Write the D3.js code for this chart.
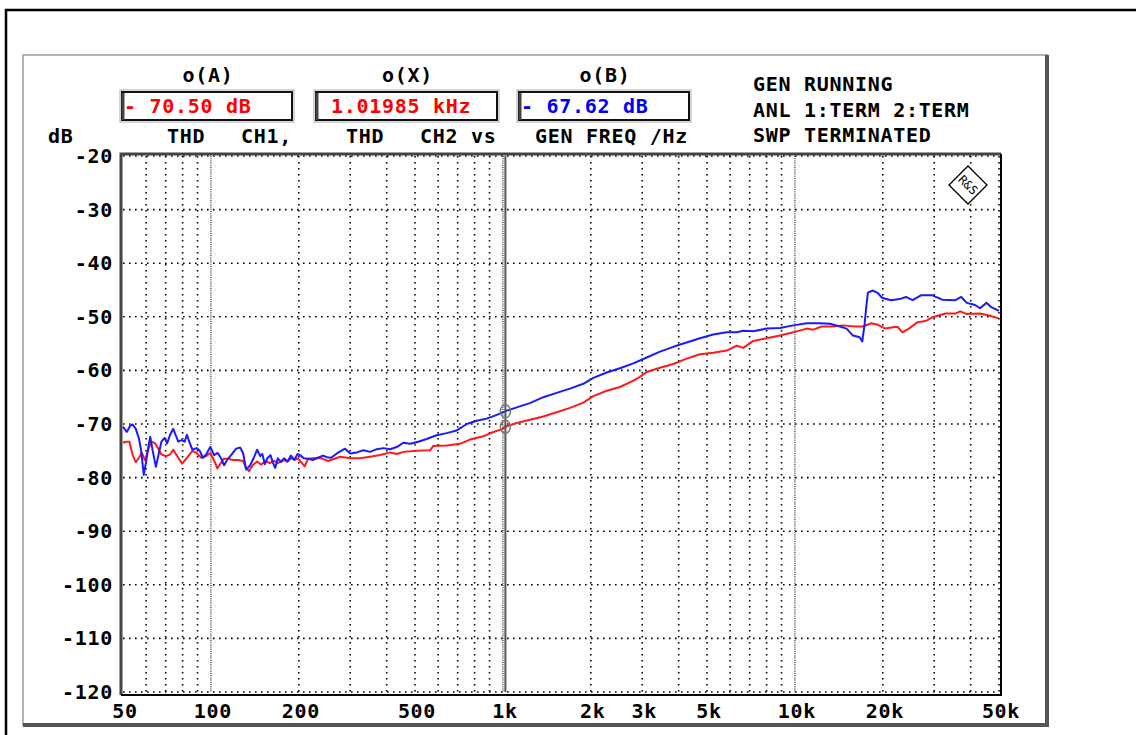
<!DOCTYPE html>
<html>
<head>
<meta charset="utf-8">
<script src="https://cdn.jsdelivr.net/npm/d3@7"></script>
<style>
  body { margin: 0; background: #fff; }
  svg text { font-family: "DejaVu Sans Mono", "Liberation Mono", monospace; font-weight: bold; font-size: 20px; letter-spacing: 0.7px; }
</style>
</head>
<body>
<svg id="chart" width="1136" height="735"></svg>
<script>
// THD vs generator frequency, CH1 (red) and CH2 (blue)
var ch1 = [
  [50,-73.5],[51.3,-73.3],[52.6,-73.3],[53.9,-75.7],[55.3,-77.1],[56.7,-76.3],[58,-75.4],[59.5,-76.8],
  [61.2,-74.5],[62.7,-73.3],[64.4,-73.6],[65.9,-74.5],[67.7,-75.7],[70.2,-76],[72.4,-75.7],[74.3,-74.8],
  [76.7,-76],[79.7,-77.4],[82.8,-76.3],[86.4,-75],[89.3,-75.4],[92.7,-76.3],[96.3,-76],[99.5,-75.4],
  [102.6,-76.8],[105.2,-78.3],[107.9,-77.4],[110.6,-76.5],[114.8,-76.5],[119,-76.7],[124,-76.7],[128.8,-76.9],
  [132,-78.2],[135,-78.8],[139.5,-77.6],[144,-77],[148.8,-77.6],[153.5,-76.9],[159,-77.3],[164.5,-76.9],
  [169.8,-77.3],[176.6,-76.7],[182.8,-77],[188.6,-76.4],[193.6,-76.7],[198.7,-76.4],[205,-77.3],[209.5,-77.9],
  [214.9,-76.5],[223.4,-76.4],[232.7,-76.3],[242,-76.5],[252,-76.9],[277,-76.1],[300,-76.4],[324,-76.4],
  [351,-76.1],[380,-75.8],[411,-75.3],[433,-75.6],[456,-75.2],[507,-75],[563,-74.9],[578,-74.1],
  [642,-74],[713,-73.7],[771,-72.9],[857,-72.3],[927,-71.5],[990,-71],[1020,-70.5],[1115,-69.8],
  [1238,-69.2],[1375,-68.6],[1528,-67.8],[1697,-67],[1886,-66],[2040,-64.8],[2267,-63.8],[2518,-63.1],
  [2797,-61.9],[2947,-61.2],[3108,-60.3],[3451,-59.5],[3834,-58.8],[4258,-57.8],[4730,-57],[5254,-56.7],
  [5838,-56.3],[6318,-55.4],[6655,-55.8],[7206,-54.5],[8005,-54],[8891,-53.5],[9876,-52.9],[10973,-52.2],
  [11560,-52.4],[12350,-51.8],[13530,-51.8],[14630,-51.6],[16030,-51.8],[17100,-51.8],[18260,-51.2],[19250,-51.5],
  [20370,-52.2],[21920,-51.9],[22500,-51.9],[23360,-52.9],[24570,-52.2],[26300,-51],[28000,-50.8],[29560,-50.1],
  [32780,-49.4],[35440,-49.4],[36840,-49],[38800,-49.5],[43040,-49.4],[45850,-49.7],[50000,-50.3]
];
var ch2 = [
  [50,-70.5],[51.5,-71.5],[53,-70.3],[54,-70.1],[55.3,-70.9],[56.7,-72.7],[57.7,-75],[58.9,-79.5],
  [60.1,-76.8],[61.2,-73.9],[62,-72.4],[63.2,-75],[64.8,-78],[66.2,-75.7],[67.7,-73.3],[69.4,-72.6],
  [70.8,-73.6],[72.4,-72.1],[74.3,-70.9],[75.8,-72.1],[77.3,-73.3],[79.3,-73],[81.3,-73.3],[82.8,-72],
  [84.3,-73.3],[86.4,-74.8],[89.3,-74.5],[91.6,-75],[93.9,-76.3],[96.3,-75.7],[99.5,-74.3],[102.6,-75.8],
  [105.5,-75.4],[108.3,-76.4],[111,-77.7],[114,-76.6],[118,-75.6],[122,-74.6],[126,-74.4],[129,-75.5],
  [132,-78.5],[136,-77.8],[140,-76.4],[144,-74.8],[147.5,-76],[150,-75.6],[153,-77.5],[156,-76.4],
  [160,-75.8],[163,-77.2],[166,-78.2],[169.5,-76.4],[174,-77.1],[178,-76.4],[183,-77],[188,-75.9],
  [193,-76.7],[198,-75.6],[203,-75.9],[208,-76.4],[215,-76.5],[224,-76.7],[233,-76.3],[242,-75.9],
  [250,-76.2],[258,-76.3],[270,-75.5],[288,-74.6],[300,-75.5],[316,-75.3],[333,-74.9],[351,-75.2],
  [370,-74.7],[390,-74.5],[411,-74.7],[433,-74.3],[456,-73.5],[481,-73.7],[513,-73.3],[548,-72.8],
  [593,-72.1],[642,-71.7],[695,-71.2],[752,-70],[813,-69.4],[880,-69],[953,-68.3],[1020,-67.6],
  [1115,-66.9],[1238,-66.1],[1375,-65],[1528,-64.2],[1697,-63.4],[1886,-62.5],[2040,-61.4],[2267,-60.4],
  [2518,-59.6],[2797,-58.7],[3108,-57.6],[3451,-56.5],[3834,-55.6],[4258,-54.8],[4730,-54],[5254,-53.3],
  [5838,-52.9],[6318,-52.9],[6655,-52.6],[7206,-52.7],[8005,-52.2],[8891,-52.1],[9876,-51.6],[10973,-51.2],
  [12190,-51.2],[13187,-51.3],[14265,-51.8],[15025,-52.2],[15818,-53.5],[16665,-53.8],[17012,-54.6],[17330,-51.3],
  [17560,-48.1],[17783,-45.5],[18500,-45.1],[19250,-45.6],[19920,-46.5],[21370,-46.9],[22800,-46.7],[24020,-46.3],
  [25290,-46.9],[27000,-46],[29560,-46],[31950,-46.8],[35440,-46.9],[37130,-46.3],[38800,-47.4],[41400,-47.8],
  [43040,-48.4],[45300,-47.4],[47060,-48.2],[50000,-48.9]
];

var xMinor = [60,70,80,90,200,300,400,500,600,700,800,900,2000,3000,4000,5000,6000,7000,8000,9000,20000,30000,40000,50000];
var xDecade = [100,1000,10000];
var xTicks = [50,100,200,500,1000,2000,3000,5000,10000,20000,50000];
var xTickLabels = ["50","100","200","500","1k","2k","3k","5k","10k","20k","50k"];
var yTicks = [-20,-30,-40,-50,-60,-70,-80,-90,-100,-110,-120];

var cursorFreq = 1019.85;
var readA = "- 70.50 dB", readX = "1.01985 kHz", readB = "- 67.62 dB";
var statusLines = ["GEN RUNNING", "ANL 1:TERM 2:TERM", "SWP TERMINATED"];

var svg = d3.select("#chart");
var pl = 123, pr = 999, pt = 156, pb = 692;

var x = d3.scaleLog().domain([50, 50000]).range([pl, pr]);
var y = d3.scaleLinear().domain([-120, -20]).range([pb, pt]);

// outer black frame (cut off at right/bottom)
svg.append("path").attr("d", "M6,735 V10 H1136")
  .attr("fill", "none").attr("stroke", "#000").attr("stroke-width", 2.5);

// gray panel
svg.append("rect").attr("x", 23).attr("y", 55).attr("width", 1024).attr("height", 670)
  .attr("fill", "#fff").attr("stroke", "#999").attr("stroke-width", 1.5);
svg.append("path").attr("d", "M1047,55 V725 H23")
  .attr("fill", "none").attr("stroke", "#555").attr("stroke-width", 4);

// header readouts
function readBox(x0, w, label, value, color, tx) {
  svg.append("text").attr("x", x0 + w / 2 + 1).attr("y", 75).attr("text-anchor", "middle")
    .attr("dominant-baseline", "central").text(label);
  svg.append("rect").attr("x", x0 - 1).attr("y", 90).attr("width", w + 2).attr("height", 32)
    .attr("fill", "none").attr("stroke", "#aaa").attr("stroke-width", 1);
  svg.append("rect").attr("x", x0 + 1).attr("y", 92).attr("width", w - 2).attr("height", 28)
    .attr("fill", "#fff").attr("stroke", "#111").attr("stroke-width", 2);
  svg.append("path").attr("d", "M" + (x0 + 2) + "," + 120 + " V" + 93)
    .attr("stroke", "#444").attr("stroke-width", 3);
  svg.append("text").attr("x", tx).attr("y", 106).attr("dominant-baseline", "central")
    .attr("fill", color).attr("xml:space", "preserve").text(value);
}
readBox(121, 172, "o(A)", readA, "#ff0000", 124);
readBox(315, 183, "o(X)", readX, "#ff0000", 331);
readBox(518, 172, "o(B)", readB, "#0000ff", 521);

var row3 = [["dB", 48], ["THD", 167], ["CH1,", 241], ["THD", 346], ["CH2 vs", 420], ["GEN FREQ /Hz", 535]];
row3.forEach(function(d) {
  svg.append("text").attr("x", d[1]).attr("y", 136).attr("dominant-baseline", "central")
    .attr("xml:space", "preserve").text(d[0]);
});

svg.selectAll(".status").data(statusLines).enter().append("text")
  .attr("class", "status").attr("x", 753).attr("y", function(d, i) { return 84 + i * 25.5; })
  .attr("dominant-baseline", "central").text(function(d) { return d; });

// grid
var grid = svg.append("g");
grid.selectAll(".hg").data(yTicks).enter().append("line")
  .attr("x1", pl).attr("x2", pr)
  .attr("y1", function(d) { return y(d); }).attr("y2", function(d) { return y(d); })
  .attr("stroke", "#000").attr("stroke-width", 1.6).attr("stroke-dasharray", "1.6 4.4");
grid.selectAll(".vg").data(xMinor).enter().append("line")
  .attr("x1", function(d) { return x(d); }).attr("x2", function(d) { return x(d); })
  .attr("y1", pt).attr("y2", pb)
  .attr("stroke", "#000").attr("stroke-width", 1.6).attr("stroke-dasharray", "1.6 4.4");
grid.selectAll(".vd").data(xDecade).enter().append("line")
  .attr("x1", function(d) { return x(d); }).attr("x2", function(d) { return x(d); })
  .attr("y1", pt).attr("y2", pb)
  .attr("stroke", "#222").attr("stroke-width", 1.2).attr("stroke-dasharray", "1 1.2");

// plot frame: dark top/left, black right/bottom
svg.append("path").attr("d", "M" + (pl - 2) + "," + (pb + 3) + " V" + (pt - 2) + " H" + (pr + 2))
  .attr("fill", "none").attr("stroke", "#444").attr("stroke-width", 3);
svg.append("path").attr("d", "M" + (pr + 2) + "," + (pt - 2) + " V" + (pb + 3) + " H" + (pl - 2))
  .attr("fill", "none").attr("stroke", "#000").attr("stroke-width", 2);

// axis labels
svg.selectAll(".yl").data(yTicks).enter().append("text")
  .attr("x", 113).attr("y", function(d) { return y(d); })
  .attr("text-anchor", "end").attr("dominant-baseline", "central")
  .text(function(d) { return d; });
svg.selectAll(".xl").data(xTicks).enter().append("text")
  .attr("x", function(d) { return x(d) + 2; }).attr("y", 711)
  .attr("text-anchor", "middle").attr("dominant-baseline", "central")
  .text(function(d, i) { return xTickLabels[i]; });

// R&S logo
var lg = svg.append("g").attr("transform", "translate(968,185)");
lg.append("path").attr("d", "M0,-19 L19,0 L0,19 L-19,0 Z")
  .attr("fill", "#fff").attr("stroke", "#000").attr("stroke-width", 1.3);
lg.append("text").attr("transform", "rotate(45)").attr("text-anchor", "middle").attr("dominant-baseline", "central")
  .style("font-size", "12px").style("letter-spacing", "0px").style("font-weight", "normal").text("R&S");

// curves
var line = d3.line().x(function(d) { return x(d[0]); }).y(function(d) { return y(d[1]); });
svg.append("path").datum(ch1).attr("d", line)
  .attr("fill", "none").attr("stroke", "#ff1a1a").attr("stroke-width", 2).attr("stroke-linejoin", "round");
svg.append("path").datum(ch2).attr("d", line)
  .attr("fill", "none").attr("stroke", "#1a1aff").attr("stroke-width", 2).attr("stroke-linejoin", "round");

// cursor
var cx = x(cursorFreq);
svg.append("line").attr("x1", cx).attr("x2", cx).attr("y1", pt).attr("y2", pb)
  .attr("stroke", "#555").attr("stroke-width", 2);
[-67.62, -70.5].forEach(function(v) {
  svg.append("ellipse").attr("cx", cx).attr("cy", y(v)).attr("rx", 5).attr("ry", 6.5)
    .attr("fill", "none").attr("stroke", "#777").attr("stroke-width", 1.5);
});
</script>
</body>
</html>
